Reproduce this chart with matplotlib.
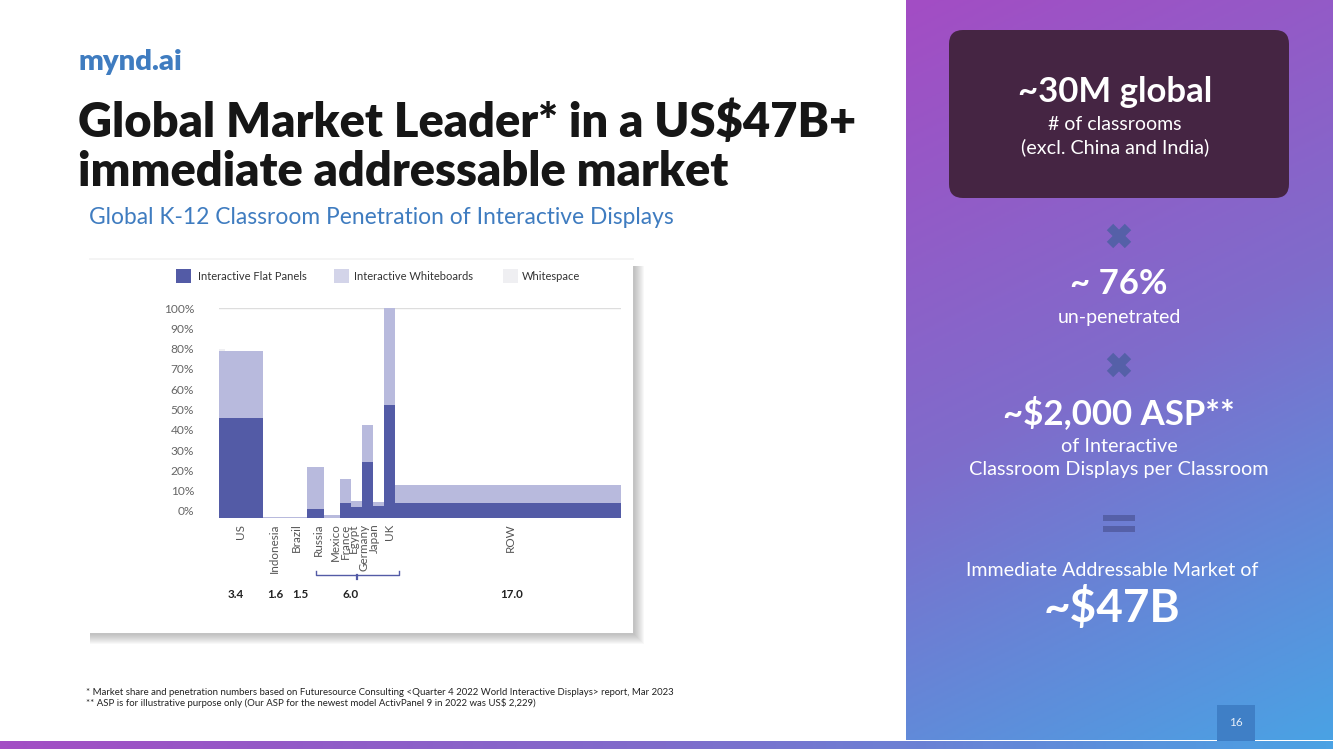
import numpy as np
import matplotlib
matplotlib.use("Agg")
import matplotlib.pyplot as plt
from matplotlib.patches import Rectangle, FancyBboxPatch
from matplotlib.colors import LinearSegmentedColormap

plt.rcParams['font.family'] = ['Lato', 'DejaVu Sans']

# ---- data ----
categories = ["US", "Indonesia", "Brazil", "Russia", "Mexico", "France", "Egypt", "Germany", "Japan", "UK", "ROW"]
widths = [3.31, 2.03, 1.28, 1.28, 1.2, 0.83, 0.83, 0.83, 0.83, 0.83, 17.0]
flat_panel_top = [46, -3.4, -3.4, 1, -3.4, 4, 2, 24, 2.5, 52, 4]
whiteboard_top = [79, -3, -3, 21.6, -2, 16, 5, 42.5, 4.3, 100, 13]
whitespace_top = [80]
y_ticks = [0, 10, 20, 30, 40, 50, 60, 70, 80, 90, 100]
y_tick_labels = [f"{v}%" for v in y_ticks]
market_labels = ["3.4", "1.6", "1.5", "6.0", "17.0"]
legend_labels = ["Interactive Flat Panels", "Interactive Whiteboards", "Whitespace"]

W, H = 1333, 749
fig = plt.figure(figsize=(W / 100, H / 100), dpi=100, facecolor="white")
bg = fig.add_axes([0, 0, 1, 1])
bg.set_xlim(0, W)
bg.set_ylim(H, 0)
bg.axis("off")

cmap = LinearSegmentedColormap.from_list("g", ["#A34DC4", "#7F6CCB", "#4AA2E4"])

# right panel gradient (diagonal)
gx, gy = np.meshgrid(np.linspace(0, 1, 200), np.linspace(0, 1, 350))
bg.imshow(0.22 * gx + 0.78 * gy, extent=(906, W, 740, 0), cmap=cmap, vmin=0, vmax=1,
          aspect="auto", zorder=1, interpolation="bilinear")
# bottom gradient bar
bg.imshow(np.linspace(0, 1, 400)[None, :], extent=(0, W, H, 741), cmap=cmap, vmin=0, vmax=1,
          aspect="auto", zorder=2)
bg.set_xlim(0, W)
bg.set_ylim(H, 0)

# page number
bg.add_patch(Rectangle((1217, 705), 38, 36, fc="#3F7FC6", ec="none", zorder=3))
bg.text(1236, 723, "16", color="#E6EEF8", fontsize=8.5, ha="center", va="center", zorder=4)

# left texts
bg.text(78, 62, "mynd.ai", color="#3F7CC0", fontsize=21.2, fontweight="heavy", va="center", zorder=4)
bg.text(78, 123, "Global Market Leader* in a US$47B+", color="#161616", fontsize=33.8,
        fontweight="heavy", va="center", zorder=4)
bg.text(78, 172, "immediate addressable market", color="#161616", fontsize=33.8,
        fontweight="heavy", va="center", zorder=4)
bg.text(89, 218, "Global K-12 Classroom Penetration of Interactive Displays", color="#3F7CC0",
        fontsize=16.35, va="center", zorder=4)
bg.text(86, 692.5, "* Market share and penetration numbers based on Futuresource Consulting "
        "<Quarter 4 2022 World Interactive Displays> report, Mar 2023",
        color="#222222", fontsize=6.95, va="center", zorder=4)
bg.text(86, 703.5, "** ASP is for illustrative purpose only (Our ASP for the newest model "
        "ActivPanel 9 in 2022 was US$ 2,229)", color="#222222", fontsize=6.95, va="center", zorder=4)

# chart card with a soft shadow
for i in range(10):
    grow = 10 - i
    bg.add_patch(Rectangle((90, 266), 544 + grow, 368 + grow, fc="#555555", alpha=0.04, ec="none", zorder=3))
bg.add_patch(Rectangle((86, 260), 547, 373, fc="white", ec="none", zorder=4))
bg.plot([90, 633], [259, 259], color="#F2F2F2", lw=1.2, zorder=4)

# legend
swatches = ["#535BA6", "#D3D4E9", "#EFEFF2"]
sw_x = [176, 334, 503]
tx_x = [198, 354, 522]
for lab, col, sx, tx in zip(legend_labels, swatches, sw_x, tx_x):
    bg.add_patch(Rectangle((sx, 269), 15, 14, fc=col, ec="none", zorder=5))
    bg.text(tx, 276, lab, color="#333333", fontsize=8.0, va="center", zorder=5)

# ---- chart ----
x0, x1, ytop, ybot = 219, 621, 308, 518
ax = fig.add_axes([x0 / W, 1 - ybot / H, (x1 - x0) / W, (ybot - ytop) / H])
ax.patch.set_alpha(0)
BASE = -3.45
lefts = np.concatenate([[0], np.cumsum(widths)[:-1]])
total = float(np.sum(widths))
ax.set_xlim(0, total)
ax.set_ylim(BASE, 100)
c_fp, c_wb, c_ws = "#535BA6", "#B8BADD", "#EFEFF2"
ft = np.array(flat_panel_top, float)
wt = np.array(whiteboard_top, float)
ax.bar(lefts[:1], [whitespace_top[0] - BASE], width=0.45, bottom=BASE, align="edge", color=c_ws, zorder=1)
ax.bar(lefts, wt - BASE, width=widths, bottom=BASE, align="edge", color=c_wb, linewidth=0, zorder=2,
       label=legend_labels[1])
ax.bar(lefts, ft - BASE, width=widths, bottom=BASE, align="edge", color=c_fp, linewidth=0, zorder=3,
       label=legend_labels[0])
ax.axhline(100, color="#DDDDDD", lw=1, zorder=0)
ax.set_yticks(y_ticks, y_tick_labels, color="#666666", fontsize=8.6)
ax.tick_params(axis="y", length=0, pad=18)

px_unit = (x1 - x0) / total
centers = lefts + np.array(widths) / 2
nudges_px = np.array([0, -2, -2, 3, 3, -0.5, -3, -4, -4.5, -0.5, 2])
ax.set_xticks(centers + nudges_px / px_unit, categories, rotation=90, color="#555555", fontsize=8.4)
ax.tick_params(axis="x", length=0, pad=4)
for s in ax.spines.values():
    s.set_visible(False)

# bracket over the 6.0 group
ov = fig.add_axes([0, 0, 1, 1])
ov.set_xlim(0, W)
ov.set_ylim(H, 0)
ov.axis("off")
ov.patch.set_alpha(0)
ov.plot([316, 316, 399, 399], [571, 575, 575, 571], color="#535BA6", lw=1)
ov.plot([357, 357], [575, 579], color="#535BA6", lw=1.6)
for lab, mx in zip(market_labels, [236, 275, 300, 351, 512]):
    ov.text(mx, 594, lab, color="#222222", fontsize=8.4, fontweight="bold", ha="center", va="center")

# ---- right panel ----
ov.add_patch(FancyBboxPatch((949, 30), 340, 168, boxstyle="round,pad=0,rounding_size=14", fc="#452543",
                            ec="none", zorder=1))
cx = 1115
ov.text(cx, 92, "~30M global", color="white", fontsize=25, fontweight="bold", ha="center", va="center")
ov.text(cx, 124, "# of classrooms", color="white", fontsize=14, ha="center", va="center")
ov.text(cx, 147, "(excl. China and India)", color="white", fontsize=14.2, ha="center", va="center")
ov.text(1119, 284, "~ 76%", color="white", fontsize=25, fontweight="bold", ha="center", va="center")
ov.text(1119, 317, "un-penetrated", color="white", fontsize=14, ha="center", va="center")
ov.text(1119, 413, "~$2,000 ASP**", color="white", fontsize=25, fontweight="bold", ha="center", va="center")
ov.text(1119, 447, "of Interactive", color="white", fontsize=14.3, ha="center", va="center")
ov.text(1119, 470, "Classroom Displays per Classroom", color="white", fontsize=14.3, ha="center", va="center")
ov.text(1112, 571, "Immediate Addressable Market of", color="white", fontsize=14.1, ha="center", va="center")
ov.text(1112, 608, "~$47B", color="white", fontsize=33, fontweight="bold", ha="center", va="center")

sym = "#5560A8"
for my in (236, 365):
    ov.plot([1110, 1128], [my - 9, my + 9], color=sym, lw=6.5, solid_capstyle="butt")
    ov.plot([1110, 1128], [my + 9, my - 9], color=sym, lw=6.5, solid_capstyle="butt")
ov.add_patch(Rectangle((1103, 515), 32, 5.5, fc=sym, ec="none"))
ov.add_patch(Rectangle((1103, 526), 32, 6, fc=sym, ec="none"))

fig.savefig("out.png", dpi=100, facecolor="white")
